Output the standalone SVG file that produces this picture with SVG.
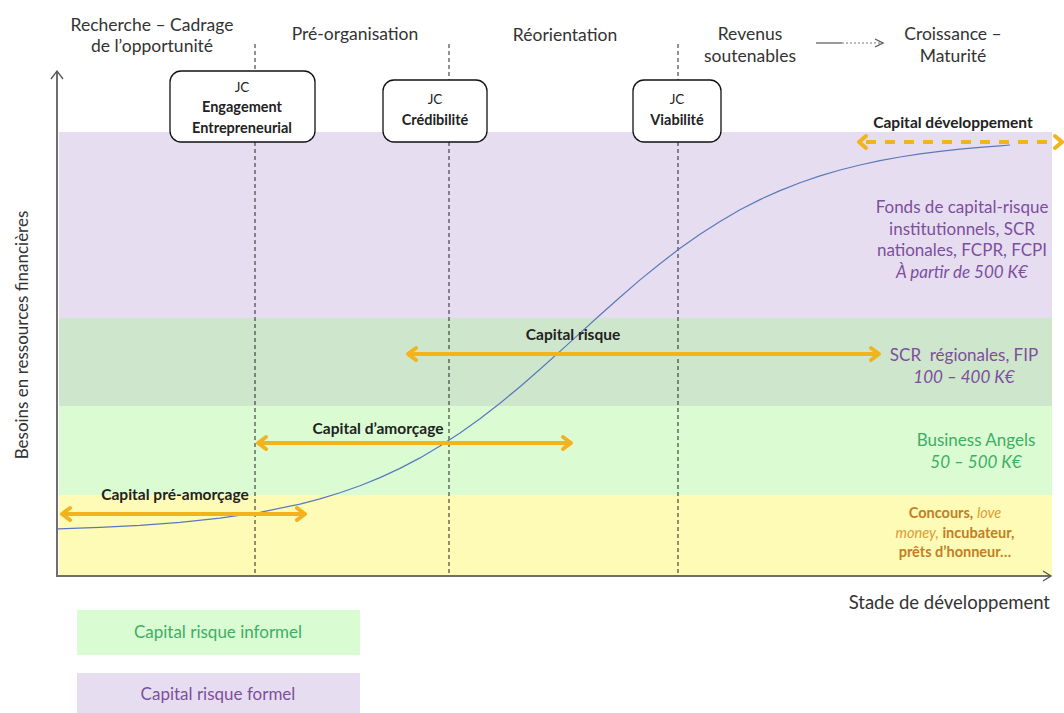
<svg xmlns="http://www.w3.org/2000/svg" width="1064" height="713" viewBox="0 0 1064 713">
<style>
  text { font-family: Lato, "Open Sans", "Liberation Sans", sans-serif; }
  .phase { font-size: 17.5px; fill: #333; text-anchor: middle; }
  .box { fill: #fff; stroke: #111; stroke-width: 1.3; }
  .jc { font-size: 13.5px; fill: #222; text-anchor: middle; }
  .jcb { font-size: 14.5px; fill: #222; text-anchor: middle; font-weight: bold; }
  .vline { stroke: #222; stroke-width: 1; stroke-dasharray: 4 3; fill: none; }
  .arr { stroke: #F2B31C; stroke-width: 4; fill: none; }
  .arrhead { stroke: #F2B31C; stroke-width: 4; fill: none; stroke-linecap: round; stroke-linejoin: round; }
  .alabel { font-size: 15.5px; fill: #222; text-anchor: middle; font-weight: bold; }
  .purple { font-size: 17px; fill: #7D4E9E; text-anchor: middle; }
  .green { font-size: 17px; fill: #3DAE62; text-anchor: middle; }
  .orange { font-size: 14.5px; fill: #C27E25; text-anchor: middle; }
  .light { font-style: italic; fill: #E09A35; font-weight: normal; }
  .axis { stroke: #6E6E6E; stroke-width: 2; fill: none; }
  .chev { stroke: #555; stroke-width: 1.3; fill: none; }
</style>

<g id="bands">
  <rect x="59" y="132" width="993" height="186" fill="#E6DEF0"/>
  <rect x="59" y="318" width="993" height="88" fill="#CEE6CB"/>
  <rect x="59" y="406" width="993" height="89" fill="#DBFCD3"/>
  <rect x="59" y="495" width="993" height="81" fill="#FEFBB6"/>
</g>

<g id="phases">
  <text class="phase" x="152" y="31">Recherche – Cadrage</text>
  <text class="phase" x="152" y="52">de l’opportunité</text>
  <text class="phase" x="355" y="40">Pré-organisation</text>
  <text class="phase" x="565" y="41">Réorientation</text>
  <text class="phase" x="750" y="40">Revenus</text>
  <text class="phase" x="750" y="62">soutenables</text>
  <text class="phase" x="953" y="40">Croissance –</text>
  <text class="phase" x="953" y="62">Maturité</text>
</g>

<g id="connectors">
  <line class="vline" x1="255" y1="44" x2="255" y2="576"/>
  <line class="vline" x1="449" y1="44" x2="449" y2="576"/>
  <line class="vline" x1="678" y1="44" x2="678" y2="576"/>
  <!-- phase arrow -->
  <line x1="816" y1="43" x2="842" y2="43" stroke="#555" stroke-width="1.2"/>
  <line x1="842" y1="43" x2="881" y2="43" stroke="#777" stroke-width="1" stroke-dasharray="2 2"/>
  <polyline class="chev" points="875,39 883,43 875,47"/>
  <!-- axes -->
  <line class="axis" x1="57" y1="577" x2="57" y2="71"/>
  <polyline class="chev" points="51,79 57,71 63,79"/>
  <line class="axis" x1="56" y1="576" x2="1051" y2="576"/>
  <polyline class="chev" points="1043,571 1051,576 1043,581"/>
  <!-- curve -->
  <polyline fill="none" stroke="#5A78BB" stroke-width="1.2" stroke-linejoin="round" points="58,528.8 100,527.3 140,525.3 180,522.4 220,518.2 260,512.3 300,504.1 320,498.9 340,492.8 360,485.8 380,477.6 400,468.4 420,457.9 440,446.1 460,433.1 480,418.7 500,403.2 520,386.7 540,369.3 560,351.4 580,333.1 600,315 620,297.2 640,279.9 660,263.7 680,248.3 700,234.2 720,221.4 740,209.8 760,199.6 780,190.6 800,182.7 820,175.9 840,170 860,165 880,160.6 900,157 920,153.9 940,151.3 960,149.2 980,147.3 1000,145.8 1010,145"/>
  <!-- capital arrows -->
  <g id="pre-amorcage">
    <line class="arr" x1="62" y1="514" x2="305" y2="514"/>
    <polyline class="arrhead" points="70,508 62,514 70,520"/>
    <polyline class="arrhead" points="297,508 305,514 297,520"/>
  </g>
  <g id="amorcage">
    <line class="arr" x1="258" y1="443" x2="571" y2="443"/>
    <polyline class="arrhead" points="266,437 258,443 266,449"/>
    <polyline class="arrhead" points="563,437 571,443 563,449"/>
  </g>
  <g id="risque">
    <line class="arr" x1="408" y1="354" x2="879" y2="354"/>
    <polyline class="arrhead" points="416,348 408,354 416,360"/>
    <polyline class="arrhead" points="871,348 879,354 871,360"/>
  </g>
  <g id="developpement">
    <line class="arr" x1="866" y1="142" x2="1054" y2="142" stroke-dasharray="10 9"/>
    <polyline class="arrhead" points="866,136 859,142 866,148"/>
    <polyline class="arrhead" points="1055,136 1062,142 1055,148"/>
  </g>
</g>

<g id="capital-labels">
  <text class="alabel" x="175" y="500">Capital pré-amorçage</text>
  <text class="alabel" x="378" y="434">Capital d’amorçage</text>
  <text class="alabel" x="573" y="340">Capital risque</text>
  <text class="alabel" x="953" y="128">Capital développement</text>
</g>

<g id="jc-engagement">
  <rect class="box" x="170" y="71" width="145" height="71" rx="11"/>
  <text class="jc" x="242" y="92">JC</text>
  <text class="jcb" x="242" y="112">Engagement</text>
  <text class="jcb" x="242" y="133">Entrepreneurial</text>
</g>
<g id="jc-credibilite">
  <rect class="box" x="383" y="80" width="104" height="62" rx="11"/>
  <text class="jc" x="435" y="104">JC</text>
  <text class="jcb" x="435" y="125">Crédibilité</text>
</g>
<g id="jc-viabilite">
  <rect class="box" x="633" y="80" width="88" height="62" rx="11"/>
  <text class="jc" x="677" y="104">JC</text>
  <text class="jcb" x="677" y="125">Viabilité</text>
</g>

<g id="right-labels">
  <text class="purple" x="962" y="213">Fonds de capital-risque</text>
  <text class="purple" x="962" y="235">institutionnels, SCR</text>
  <text class="purple" x="962" y="256">nationales, FCPR, FCPI</text>
  <text class="purple" x="962" y="278" font-style="italic">À partir de 500 K€</text>
  <text class="purple" x="964" y="361">SCR&#160; régionales, FIP</text>
  <text class="purple" x="964" y="383" font-style="italic">100 – 400 K€</text>
  <text class="green" x="976" y="446">Business Angels</text>
  <text class="green" x="976" y="468" font-style="italic">50 – 500 K€</text>
  <text class="orange" x="955" y="518"><tspan font-weight="bold">Concours,</tspan> <tspan class="light">love</tspan></text>
  <text class="orange" x="955" y="538"><tspan class="light">money,</tspan> <tspan font-weight="bold">incubateur,</tspan></text>
  <text class="orange" x="955" y="557" font-weight="bold">prêts d’honneur…</text>
</g>

<g id="axis-labels">
  <text x="0" y="0" font-size="17" fill="#333" text-anchor="middle" transform="translate(28,335) rotate(-90)">Besoins en ressources financières</text>
  <text x="1050" y="609" font-size="18.5" fill="#333" text-anchor="end">Stade de développement</text>
</g>

<g id="legend">
  <rect x="77" y="610" width="283" height="45" fill="#DAFCD3"/>
  <text class="green" x="218" y="638" font-size="16.5">Capital risque informel</text>
  <rect x="77" y="673" width="283" height="40" fill="#E6DEF0"/>
  <text class="purple" x="218" y="700" font-size="16.5">Capital risque formel</text>
</g>
</svg>
